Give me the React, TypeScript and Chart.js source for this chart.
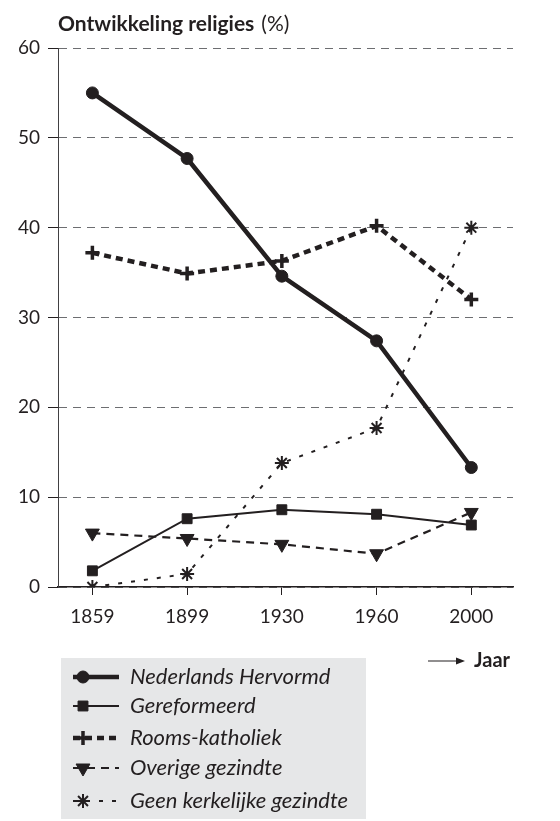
import React, { useEffect, useRef } from 'react';
import { Chart, registerables } from 'chart.js';
import { drawPoint } from 'chart.js/helpers';

Chart.register(...registerables);

const years = ['1859', '1899', '1930', '1960', '2000'];
const hervormd = [55, 47.7, 34.6, 27.4, 13.3];
const gereformeerd = [1.8, 7.6, 8.6, 8.1, 6.9];
const katholiek = [37.2, 34.9, 36.3, 40.2, 32.0];
const overige = [6.0, 5.4, 4.75, 3.7, 8.3];
const geen = [0, 1.45, 13.8, 17.7, 40];
const yTicks = [0, 10, 20, 30, 40, 50, 60];
const seriesNames = [
  'Nederlands Hervormd',
  'Gereformeerd',
  'Rooms-katholiek',
  'Overige gezindte',
  'Geen kerkelijke gezindte',
];
const titleBold = 'Ontwikkeling religies';
const titleNormal = '(%)';
const axisName = 'Jaar';

const INK = '#231f20';
const FONT = 'Lato, "DejaVu Sans", sans-serif';

const toPoints = (arr: number[]) => arr.map((v, i) => ({ x: i, y: v }));

const extrasPlugin = {
  id: 'extras',
  afterDraw(chart: any) {
    const ctx = chart.ctx as CanvasRenderingContext2D;
    ctx.save();
    // title
    ctx.fillStyle = INK;
    ctx.textBaseline = 'middle';
    ctx.textAlign = 'left';
    ctx.font = `bold 21px ${FONT}`;
    ctx.fillText(titleBold, 58, 24);
    const w = ctx.measureText(titleBold).width;
    ctx.font = `21px ${FONT}`;
    ctx.fillText(titleNormal, 58 + w + 7, 24);

    // axis name with arrow
    ctx.strokeStyle = INK;
    ctx.lineWidth = 1.2;
    ctx.beginPath();
    ctx.moveTo(428, 661);
    ctx.lineTo(462, 661);
    ctx.stroke();
    ctx.beginPath();
    ctx.moveTo(465, 661);
    ctx.lineTo(456, 657.5);
    ctx.lineTo(456, 664.5);
    ctx.closePath();
    ctx.fillStyle = INK;
    ctx.fill();
    ctx.font = `bold 20px ${FONT}`;
    ctx.fillText(axisName, 474, 661);

    // legend box
    ctx.fillStyle = '#e6e7e8';
    ctx.fillRect(61, 658, 305, 161);
    const rows = [677, 706, 738, 768, 801];
    chart.data.datasets.forEach((ds: any, i: number) => {
      const y = rows[i];
      ctx.save();
      ctx.strokeStyle = ds.borderColor;
      ctx.lineWidth = ds.borderWidth;
      ctx.setLineDash(ds.borderDash || []);
      ctx.beginPath();
      ctx.moveTo(73, y);
      ctx.lineTo(119, y);
      ctx.stroke();
      ctx.restore();
      ctx.save();
      ctx.fillStyle = ds.pointBackgroundColor;
      ctx.strokeStyle = ds.pointBorderColor;
      ctx.lineWidth = ds.pointBorderWidth;
      drawPoint(ctx, {
        pointStyle: ds.pointStyle,
        radius: ds.pointRadius,
        rotation: ds.pointRotation || 0,
        borderWidth: ds.pointBorderWidth,
      } as any, 83, y);
      ctx.restore();
      ctx.fillStyle = INK;
      ctx.font = `italic 22px ${FONT}`;
      ctx.textAlign = 'left';
      ctx.textBaseline = 'middle';
      ctx.fillText(ds.label, 130, y);
    });
    ctx.restore();
  },
};

export default function App() {
  const ref = useRef<HTMLCanvasElement | null>(null);
  useEffect(() => {
    if (!ref.current) return;
    const chart = new Chart(ref.current, {
      type: 'line',
      data: {
        datasets: [
          {
            label: seriesNames[0],
            data: toPoints(hervormd),
            borderColor: INK,
            backgroundColor: INK,
            borderWidth: 4.5,
            pointStyle: 'circle',
            pointRadius: 6,
            pointBackgroundColor: INK,
            pointBorderColor: INK,
            pointBorderWidth: 1,
          },
          {
            label: seriesNames[1],
            data: toPoints(gereformeerd),
            borderColor: INK,
            backgroundColor: INK,
            borderWidth: 2,
            pointStyle: 'rect',
            pointRadius: 7,
            pointBackgroundColor: INK,
            pointBorderColor: INK,
            pointBorderWidth: 1,
          },
          {
            label: seriesNames[2],
            data: toPoints(katholiek),
            borderColor: INK,
            backgroundColor: INK,
            borderWidth: 4.5,
            borderDash: [7, 5],
            pointStyle: 'cross',
            pointRadius: 7,
            pointBackgroundColor: INK,
            pointBorderColor: INK,
            pointBorderWidth: 3.5,
          },
          {
            label: seriesNames[3],
            data: toPoints(overige),
            borderColor: INK,
            backgroundColor: INK,
            borderWidth: 2.2,
            borderDash: [8, 6],
            pointStyle: 'triangle',
            pointRotation: 180,
            pointRadius: 8,
            pointBackgroundColor: INK,
            pointBorderColor: INK,
            pointBorderWidth: 1,
          },
          {
            label: seriesNames[4],
            data: toPoints(geen),
            borderColor: INK,
            backgroundColor: INK,
            borderWidth: 2,
            borderDash: [4, 9],
            pointStyle: 'star',
            pointRadius: 7,
            pointBackgroundColor: INK,
            pointBorderColor: INK,
            pointBorderWidth: 2,
          },
        ] as any,
      },
      options: {
        animation: false,
        responsive: false,
        maintainAspectRatio: false,
        layout: { padding: { left: 0, top: 48, right: 47, bottom: 174 } },
        plugins: {
          legend: { display: false },
          tooltip: { enabled: false },
          title: { display: false },
        },
        scales: {
          x: {
            type: 'linear',
            min: -0.363,
            max: 4.44,
            afterBuildTicks: (scale: any) => {
              scale.ticks = years.map((_, i) => ({ value: i }));
            },
            afterFit: (scale: any) => {
              scale.height = 60;
            },
            ticks: {
              callback: (v: any) => years[v as number] ?? '',
              color: INK,
              font: { family: FONT, size: 19 },
              padding: 10,
              maxRotation: 0,
              autoSkip: false,
            },
            grid: {
              drawOnChartArea: false,
              drawTicks: true,
              tickLength: 8,
              tickColor: INK,
              tickWidth: 1,
            },
            border: { display: true, color: INK, width: 1.5 },
          },
          y: {
            type: 'linear',
            min: 0,
            max: 60,
            afterBuildTicks: (scale: any) => {
              scale.ticks = yTicks.map((v) => ({ value: v }));
            },
            afterFit: (scale: any) => {
              scale.width = 58;
            },
            ticks: {
              color: INK,
              font: { family: FONT, size: 19 },
              padding: 8,
            },
            grid: {
              color: '#6d6e71',
              lineWidth: 1,
              tickLength: 10,
              tickColor: INK,
              tickWidth: 1,
              tickBorderDash: [],
            } as any,
            border: { display: true, color: '#414042', width: 1, dash: [8, 6] } as any,
          },
        },
      } as any,
      plugins: [extrasPlugin],
    });
    return () => chart.destroy();
  }, []);
  return (
    <div style={{ position: 'absolute', left: 0, top: 0, width: 560, height: 821, background: '#fff' }}>
      <canvas ref={ref} width={560} height={821} style={{ display: 'block', width: 560, height: 821 }} />
    </div>
  );
}
